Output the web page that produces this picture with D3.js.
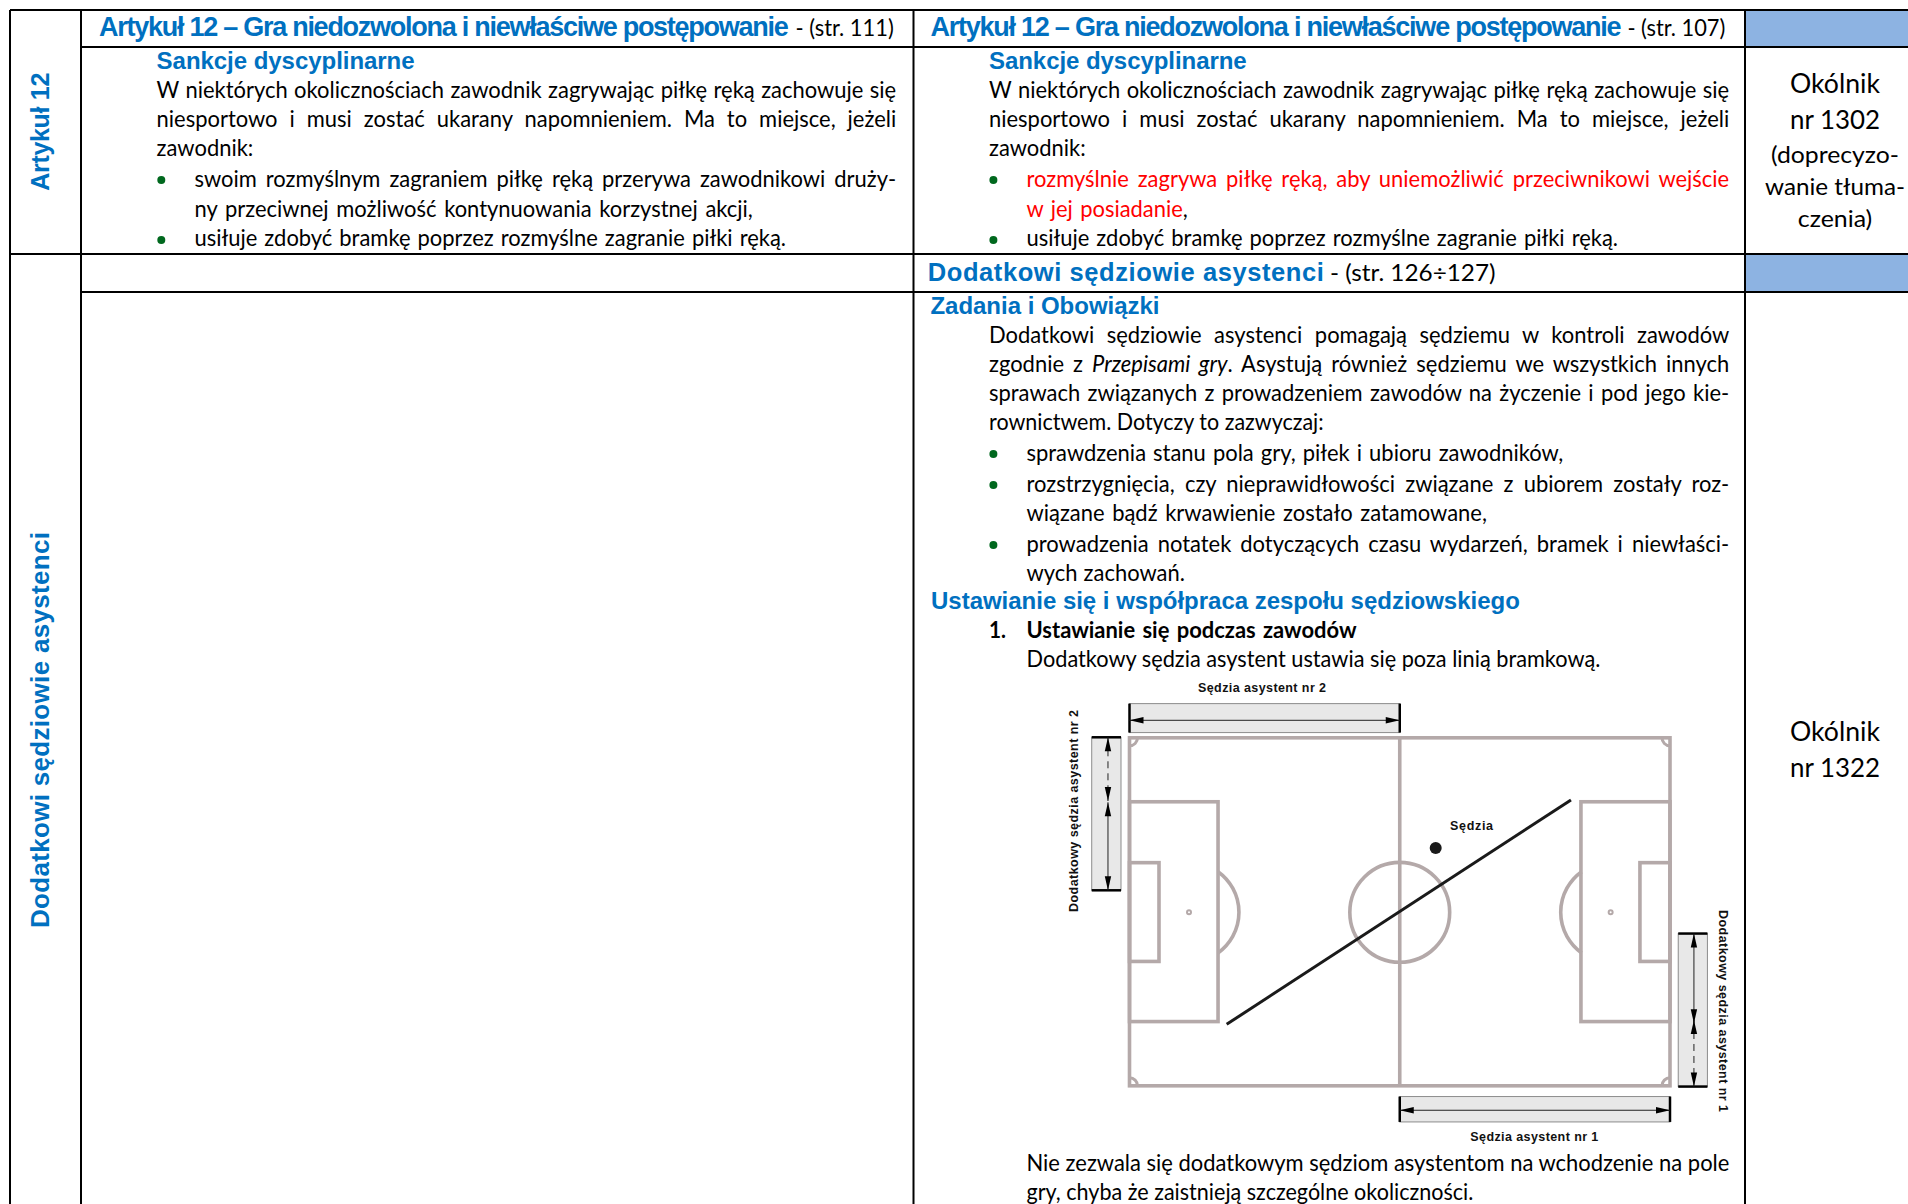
<!DOCTYPE html>
<html>

<head>
    <meta charset="utf-8">
    <title>Artykuł 12 - Dodatkowi sędziowie asystenci</title>
    <script src="https://d3js.org/d3.v7.min.js"></script>
    <style>
        body { margin: 0; background: #fff; }
        svg { display: block; }
        text { white-space: pre; }
        .body { font-family: Lato, sans-serif; font-size: 23px; fill: #000; }
        .head { font-family: "Liberation Sans", Arial, sans-serif; font-weight: bold; fill: #0070c0; }
        .small { font-family: "Liberation Sans", Arial, sans-serif; font-weight: bold; font-size: 12.5px; fill: #111; }
        .it { font-style: italic; }
        .red { fill: #ff0000; }
        .bold { font-weight: bold; }
    </style>
</head>

<body>
    <div id="chart"></div>
    <script>
        // teksty tabeli
        var sideLabels = ["Artykuł 12", "Dodatkowi sędziowie asystenci"];
        var headTitles = [
            "Artykuł 12 – Gra niedozwolona i niewłaściwe postępowanie",
            "Artykuł 12 – Gra niedozwolona i niewłaściwe postępowanie",
            "Dodatkowi sędziowie asystenci"
        ];
        var headSuffixes = ["- (str. 111)", "- (str. 107)", "- (str. 126÷127)"];
        var subHeads = ["Sankcje dyscyplinarne", "Sankcje dyscyplinarne", "Zadania i Obowiązki", "Ustawianie się i współpraca zespołu sędziowskiego"];

        var leftBody = [
            "W niektórych okolicznościach zawodnik zagrywając piłkę ręką zachowuje się",
            "niesportowo i musi zostać ukarany napomnieniem. Ma to miejsce, jeżeli",
            "zawodnik:",
            "swoim rozmyślnym zagraniem piłkę ręką przerywa zawodnikowi druży-",
            "ny przeciwnej możliwość kontynuowania korzystnej akcji,",
            "usiłuje zdobyć bramkę poprzez rozmyślne zagranie piłki ręką."
        ];
        var rightBody = [
            "W niektórych okolicznościach zawodnik zagrywając piłkę ręką zachowuje się",
            "niesportowo i musi zostać ukarany napomnieniem. Ma to miejsce, jeżeli",
            "zawodnik:",
            [["rozmyślnie zagrywa piłkę ręką, aby uniemożliwić przeciwnikowi wejście", "red"]],
            [["w jej posiadanie", "red"], [",", ""]],
            "usiłuje zdobyć bramkę poprzez rozmyślne zagranie piłki ręką."
        ];
        var dutiesBody = [
            "Dodatkowi sędziowie asystenci pomagają sędziemu w kontroli zawodów",
            [["zgodnie z ", ""], ["Przepisami gry", "it"], [". Asystują również sędziemu we wszystkich innych", ""]],
            "sprawach związanych z prowadzeniem zawodów na życzenie i pod jego kie-",
            "rownictwem. Dotyczy to zazwyczaj:",
            "sprawdzenia stanu pola gry, piłek i ubioru zawodników,",
            "rozstrzygnięcia, czy nieprawidłowości związane z ubiorem zostały roz-",
            "wiązane bądź krwawienie zostało zatamowane,",
            "prowadzenia notatek dotyczących czasu wydarzeń, bramek i niewłaści-",
            "wych zachowań."
        ];
        var positionBody = [
            [["Ustawianie się podczas zawodów", "bold"]],
            "Dodatkowy sędzia asystent ustawia się poza linią bramkową."
        ];
        var closingBody = [
            "Nie zezwala się dodatkowym sędziom asystentom na wchodzenie na pole",
            "gry, chyba że zaistnieją szczególne okoliczności."
        ];
        var circularTop = ["Okólnik", "nr 1302", "(doprecyzo-", "wanie tłuma-", "czenia)"];
        var circularBottom = ["Okólnik", "nr 1322"];

        // boisko w metrach
        var pitchLength = 105, pitchWidth = 68;
        var leftBoxes = [[17.2, 12.5, 55.45], [5.73, 24.4, 43.7]];   // głębokość, góra, dół
        var rightBoxes = [[87.7, 12.5, 55.45], [99.16, 24.4, 43.7]]; // początek, góra, dół
        var penaltySpots = [[11.56, 34.1], [93.47, 34.1]];
        var centreSpot = [52.5, 34.1];
        var circleRadius = 9.7;
        var diagonal = [[18.88, 55.98], [85.76, 12.15]];
        var referee = [59.48, 21.53];
        var corners = [[0, 0, 0], [0, 68, 270], [105, 0, 90], [105, 68, 180]];

        // strefy sędziów asystentów: x0, x1, y0, y1
        var zones = [[0, 52.5, -6.68, -1.02], [52.5, 105, 70.1, 75.06], [-7.34, -1.65, -0.1, 29.8], [106.6, 112.27, 38.25, 68.15]];
        var solidRuns = [[0, 52.5, -3.42, -3.42], [52.5, 105, 72.78, 72.78], [-4.18, -4.18, 12.6, 29.8], [109.65, 109.65, 38.25, 55.78]];
        var dashedRuns = [[-4.18, -4.18, -0.1, 12.35], [109.65, 109.65, 55.14, 68.15]];
        var arrows = [
            [0, -3.42, "left"], [52.5, -3.42, "right"],
            [52.5, 72.78, "left"], [105, 72.78, "right"],
            [-4.18, -0.1, "up"], [-4.18, 12.35, "down"], [-4.18, 12.6, "up"], [-4.18, 29.8, "down"],
            [109.65, 38.25, "up"], [109.65, 55.78, "down"], [109.65, 55.14, "up"], [109.65, 68.15, "down"]
        ];

        // rozkład strony
        var colEdges = [10, 81, 913.5, 1745];
        var pageRight = 1908, pageBottom = 1204;
        var rowFull = [10, 254];   // linie przez całą szerokość
        var rowInner = [47, 292];  // linie od drugiej kolumny
        var glyphScale = 0.955;

        var svg = d3.select("#chart").append("svg")
            .attr("width", 1908)
            .attr("height", 1204);

        var x = d3.scaleLinear().domain([0, pitchLength]).range([1129.5, 1670]);
        var y = d3.scaleLinear().domain([0, pitchWidth]).range([737.8, 1085.8]);

        // niebieskie komórki
        svg.selectAll(".blue").data(rowFull).enter().append("rect")
            .attr("x", colEdges[3]).attr("width", pageRight - colEdges[3])
            .attr("y", function (d) { return d; })
            .attr("height", function (d, i) { return rowInner[i] - d; })
            .attr("fill", "#8db3e2");

        // siatka tabeli
        svg.selectAll(".vline").data(colEdges).enter().append("line")
            .attr("x1", function (d) { return d; }).attr("x2", function (d) { return d; })
            .attr("y1", rowFull[0]).attr("y2", pageBottom)
            .attr("stroke", "#000").attr("stroke-width", 2);
        svg.selectAll(".hfull").data(rowFull).enter().append("line")
            .attr("x1", colEdges[0]).attr("x2", pageRight)
            .attr("y1", function (d) { return d; }).attr("y2", function (d) { return d; })
            .attr("stroke", "#000").attr("stroke-width", 2);
        svg.selectAll(".hinner").data(rowInner).enter().append("line")
            .attr("x1", colEdges[1]).attr("x2", pageRight)
            .attr("y1", function (d) { return d; }).attr("y2", function (d) { return d; })
            .attr("stroke", "#000").attr("stroke-width", 2);

        // tekst akapitowy: dopasowanie do prawego końca wiersza
        function bodyLines(lines, xs, ys, ends, stretch) {
            var placed = lines.map(function (t, i) { return { t: t, x: xs[i], y: ys[i], end: ends[i] }; });
            svg.append("g").selectAll("text").data(placed).enter().append("text")
                .attr("class", "body")
                .each(function (d) {
                    var el = d3.select(this);
                    var parts = typeof d.t === "string" ? [[d.t, ""]] : d.t;
                    parts.forEach(function (p) { el.append("tspan").attr("class", p[1]).text(p[0]); });
                    var plain = parts.map(function (p) { return p[0]; }).join("");
                    var natural = this.getComputedTextLength();
                    var w = d.end - d.x;
                    var k = stretch ? w / natural : Math.min(glyphScale, w / natural);
                    var spaces = plain.split(" ").length - 1;
                    var extra = spaces ? (w / k - natural) / spaces : 0;
                    el.style("word-spacing", extra + "px")
                        .attr("transform", "translate(" + d.x + "," + d.y + ") scale(" + k + ",1)");
                });
        }

        var c1 = 156.6, c1b = 194.5, c1r = 896.8, c3 = 989, c3b = 1026.5, c3r = 1729.8;
        var rowYs = [97.7, 127, 156, 186.7, 216.7, 246];

        bodyLines(leftBody, [c1, c1, c1, c1b, c1b, c1b], rowYs, [c1r, c1r, 255, c1r, 753.3, 786.5]);
        bodyLines(rightBody, [c3, c3, c3, c3b, c3b, c3b], rowYs, [c3r, c3r, 1087, c3r, 1188, 1618.5]);
        bodyLines(dutiesBody, [c3, c3, c3, c3, c3b, c3b, c3b, c3b, c3b],
            [342.7, 371.7, 401, 430.3, 460.7, 491.7, 520.7, 551.7, 580.7],
            [c3r, c3r, c3r, 1323.8, 1563.7, c3r, 1487.3, c3r, 1185]);
        bodyLines(positionBody, [c3b, c3b], [637.7, 666.7], [1356.9, 1600.6]);
        bodyLines([[["1.", "bold"]]], [c3], [637.7], [1006]);
        bodyLines(closingBody, [c3b, c3b], [1170.7, 1200], [1730, 1473.5]);

        // kolumna okólników
        function centred(lines, ys, widths, sizes) {
            var placed = lines.map(function (t, i) { return { t: t, y: ys[i], w: widths[i], s: sizes[i] }; });
            svg.append("g").selectAll("text").data(placed).enter().append("text")
                .attr("class", "body")
                .style("font-size", function (d) { return d.s + "px"; })
                .attr("text-anchor", "middle")
                .text(function (d) { return d.t; })
                .each(function (d) {
                    var k = d.w / this.getComputedTextLength();
                    d3.select(this).attr("transform", "translate(1835," + d.y + ") scale(" + k + ",1)");
                });
        }
        centred(circularTop, [92.7, 129.3, 163.3, 195, 227], [90, 90, 128, 140, 74.5], [26, 26, 23, 23, 23]);
        centred(circularBottom, [741, 777], [90, 90], [26, 26]);

        // punktory
        var bullets = [[161.3, 180], [161.3, 240], [993.4, 180], [993.4, 240], [993.4, 454], [993.4, 485], [993.4, 545]];
        svg.selectAll(".bullet").data(bullets).enter().append("circle")
            .attr("cx", function (d) { return d[0]; })
            .attr("cy", function (d) { return d[1]; })
            .attr("r", 4)
            .attr("fill", "#00681e");

        // nagłówki niebieskie
        function fitted(text, cls, size, x0, x1, base) {
            return svg.append("text").attr("class", cls)
                .attr("x", x0).attr("y", base)
                .attr("textLength", x1 - x0).attr("lengthAdjust", "spacing")
                .style("font-size", size + "px")
                .text(text);
        }
        fitted(headTitles[0], "head", 27, 99, 788.8, 36);
        fitted(headTitles[1], "head", 27, 930.4, 1621.6, 36);
        fitted(headTitles[2], "head", 25.5, 927.8, 1323.8, 280.5);
        bodyLines(headSuffixes, [795.5, 1627.4, 1330], [36, 36, 280.5], [893.8, 1725.4, 1495.6], true);
        fitted(subHeads[0], "head", 24, 156.6, 414.6, 69);
        fitted(subHeads[1], "head", 24, 989, 1246.7, 69);
        fitted(subHeads[2], "head", 24, 930.4, 1159.5, 313.8);
        fitted(subHeads[3], "head", 24, 931, 1519.8, 608.8);

        // etykiety boczne
        var sideCentres = [131.7, 730], sideLengths = [118, 396], sideSizes = [25, 26];
        sideLabels.forEach(function (t, i) {
            svg.append("text").attr("class", "head")
                .attr("text-anchor", "middle")
                .attr("transform", "translate(48.5," + sideCentres[i] + ") rotate(-90)")
                .attr("textLength", sideLengths[i])
                .style("font-size", sideSizes[i] + "px")
                .text(t);
        });

        // boisko
        var pitch = svg.append("g").attr("fill", "none").attr("stroke", "#b4a9a9").attr("stroke-width", 3.6);
        pitch.append("rect")
            .attr("x", x(0)).attr("y", y(0))
            .attr("width", x(pitchLength) - x(0)).attr("height", y(pitchWidth) - y(0));
        pitch.append("line")
            .attr("x1", x(centreSpot[0])).attr("x2", x(centreSpot[0]))
            .attr("y1", y(0)).attr("y2", y(pitchWidth));
        pitch.selectAll(".lbox").data(leftBoxes).enter().append("rect")
            .attr("x", x(0))
            .attr("y", function (d) { return y(d[1]); })
            .attr("width", function (d) { return x(d[0]) - x(0); })
            .attr("height", function (d) { return y(d[2]) - y(d[1]); });
        pitch.selectAll(".rbox").data(rightBoxes).enter().append("rect")
            .attr("x", function (d) { return x(d[0]); })
            .attr("y", function (d) { return y(d[1]); })
            .attr("width", function (d) { return x(pitchLength) - x(d[0]); })
            .attr("height", function (d) { return y(d[2]) - y(d[1]); });
        var radius = x(circleRadius) - x(0);
        pitch.append("circle")
            .attr("cx", x(centreSpot[0])).attr("cy", y(centreSpot[1])).attr("r", radius);
        pitch.selectAll(".spot").data(penaltySpots).enter().append("circle")
            .attr("cx", function (d) { return x(d[0]); })
            .attr("cy", function (d) { return y(d[1]); })
            .attr("r", 2).attr("stroke-width", 2);

        // łuki pola karnego
        var arcHalf = Math.acos((x(leftBoxes[0][0]) - x(penaltySpots[0][0])) / radius);
        pitch.selectAll(".arc").data(penaltySpots).enter().append("path")
            .attr("d", function (d, i) {
                var p = d3.path();
                var mid = i === 0 ? 0 : Math.PI;
                p.arc(x(d[0]), y(d[1]), radius, mid - arcHalf, mid + arcHalf);
                return p.toString();
            });

        // narożniki
        pitch.selectAll(".corner").data(corners).enter().append("path")
            .attr("stroke-width", 3)
            .attr("d", function (d) {
                var p = d3.path();
                var a = d[2] * Math.PI / 180;
                p.arc(x(d[0]), y(d[1]), 8, a, a + Math.PI / 2);
                return p.toString();
            });

        // strefy
        var zone = svg.append("g");
        zone.selectAll("rect").data(zones).enter().append("rect")
            .attr("x", function (d) { return x(d[0]); })
            .attr("y", function (d) { return y(d[2]); })
            .attr("width", function (d) { return x(d[1]) - x(d[0]); })
            .attr("height", function (d) { return y(d[3]) - y(d[2]); })
            .attr("fill", "#e8e8e8").attr("stroke", "#8c8c8c").attr("stroke-width", 1);

        // czarne końce stref
        var endBars = [];
        zones.forEach(function (d, i) {
            if (i < 2) {
                endBars.push([d[0], d[0], d[2], d[3]], [d[1], d[1], d[2], d[3]]);
            } else {
                endBars.push([d[0], d[1], d[2], d[2]], [d[0], d[1], d[3], d[3]]);
            }
        });
        zone.selectAll(".bar").data(endBars).enter().append("line")
            .attr("x1", function (d) { return x(d[0]); }).attr("x2", function (d) { return x(d[1]); })
            .attr("y1", function (d) { return y(d[2]); }).attr("y2", function (d) { return y(d[3]); })
            .attr("stroke", "#000").attr("stroke-width", 2.5);

        zone.selectAll(".solid").data(solidRuns).enter().append("line")
            .attr("x1", function (d) { return x(d[0]); }).attr("x2", function (d) { return x(d[1]); })
            .attr("y1", function (d) { return y(d[2]); }).attr("y2", function (d) { return y(d[3]); })
            .attr("stroke", "#222").attr("stroke-width", 1);
        zone.selectAll(".dashed").data(dashedRuns).enter().append("line")
            .attr("x1", function (d) { return x(d[0]); }).attr("x2", function (d) { return x(d[1]); })
            .attr("y1", function (d) { return y(d[2]); }).attr("y2", function (d) { return y(d[3]); })
            .attr("stroke", "#222").attr("stroke-width", 1).attr("stroke-dasharray", "7,5");

        var arrowRot = { up: 0, right: 90, down: 180, left: 270 };
        zone.selectAll(".arrow").data(arrows).enter().append("path")
            .attr("d", "M0,0L3.2,14L-3.2,14Z")
            .attr("transform", function (d) {
                return "translate(" + x(d[0]) + "," + y(d[1]) + ") rotate(" + arrowRot[d[2]] + ")";
            })
            .attr("fill", "#000");

        // przekątna i sędzia
        svg.append("path")
            .attr("d", d3.line().x(function (d) { return x(d[0]); }).y(function (d) { return y(d[1]); })(diagonal))
            .attr("fill", "none").attr("stroke", "#1a1a1a").attr("stroke-width", 3);
        svg.append("circle")
            .attr("cx", x(referee[0])).attr("cy", y(referee[1])).attr("r", 6)
            .attr("fill", "#1a1a1a");

        // podpisy na schemacie
        function small(text, cx, cy, len, rot) {
            svg.append("text").attr("class", "small")
                .attr("text-anchor", "middle")
                .attr("textLength", len).attr("lengthAdjust", "spacing")
                .attr("transform", "translate(" + cx + "," + cy + ") rotate(" + rot + ")")
                .text(text);
        }
        small("Sędzia asystent nr 2", 1262, 691.5, 128, 0);
        small("Sędzia asystent nr 1", 1534.3, 1141, 128, 0);
        small("Sędzia", 1471.5, 829.5, 43, 0);
        small("Dodatkowy sędzia asystent nr 2", 1078, 811, 202, -90);
        small("Dodatkowy sędzia asystent nr 1", 1719, 1011, 202, 90);
    </script>
</body>

</html>
